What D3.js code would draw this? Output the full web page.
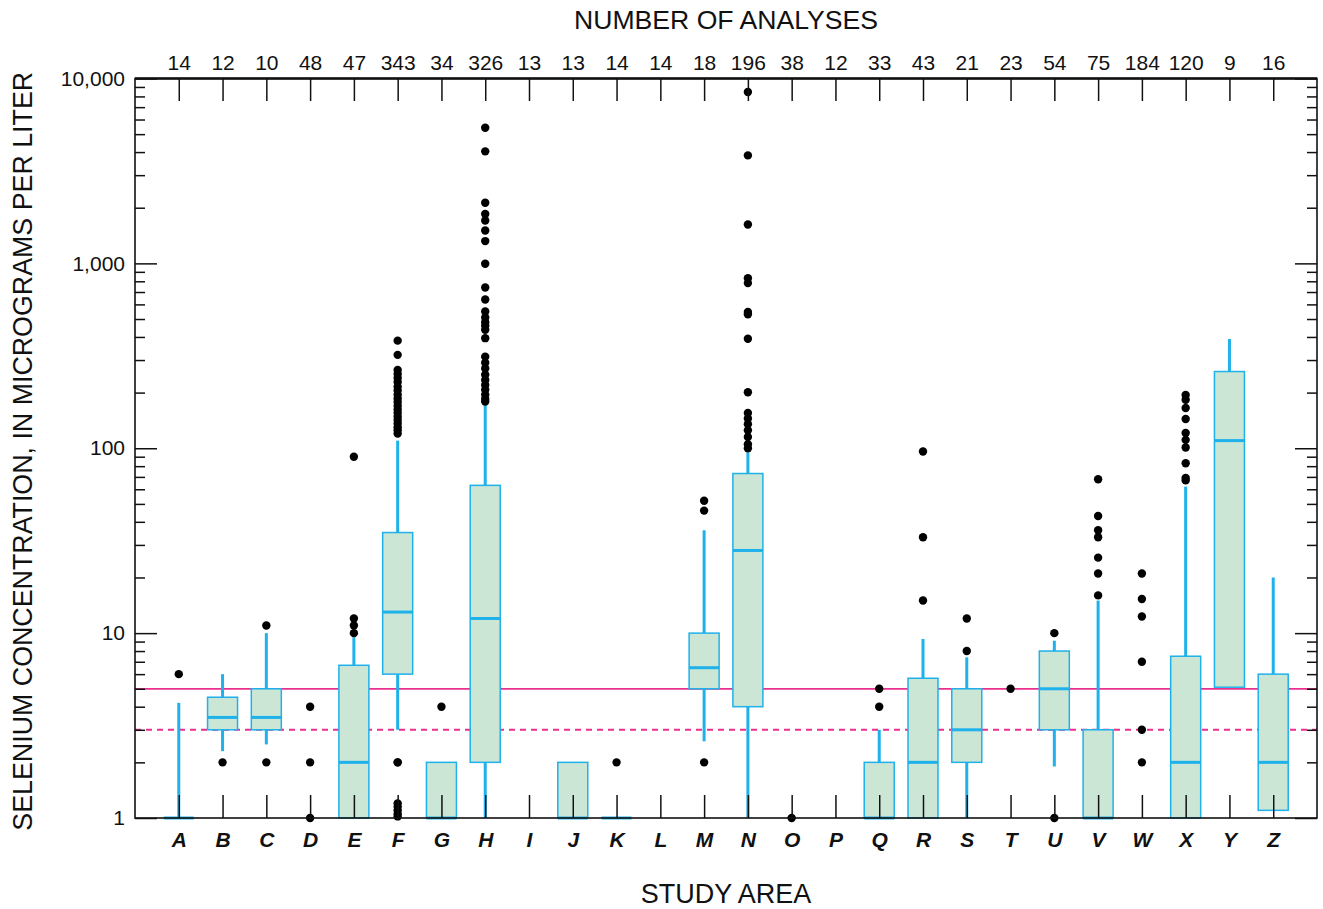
<!DOCTYPE html>
<html>
<head>
<meta charset="utf-8">
<script src="https://cdn.jsdelivr.net/npm/d3@7"></script>
<style>
  body { margin: 0; background: #fff; }
  text { font-family: "Liberation Sans", Arial, Helvetica, sans-serif; fill: #111; }
</style>
</head>
<body>
<div id="chart"></div>
<script>
// canvas
const width = 1323;
const height = 909;
const plot = { left: 135, right: 1317, top: 78.5, bottom: 818 };

// study areas and number of analyses (top axis)
const areas = ["A","B","C","D","E","F","G","H","I","J","K","L","M","N","O","P","Q","R","S","T","U","V","W","X","Y","Z"];
const counts = [14,12,10,48,47,343,34,326,13,13,14,14,18,196,38,12,33,43,21,23,54,75,184,120,9,16];

// box statistics, micrograms per liter (null = no box drawn)
const q1 =          [1, 3,   3,   null, 1,   6,   1, 2,   null, 1, 1, null, 5,   4,  null, null, 1, 1,   2,   null, 3,   1,  null, 1,   5.1, 1.1];
const median =      [1, 3.5, 3.5, null, 2,   13,  1, 12,  null, 1, 1, null, 6.5, 28, null, null, 1, 2,   3,   null, 5,   1,  null, 2,   110, 2];
const q3 =          [1, 4.5, 5,   null, 6.7, 35,  2, 63,  null, 2, 1, null, 10,  73, null, null, 2, 5.7, 5,   null, 8,   3,  null, 7.5, 260, 6];
const whiskerLow =  [1, 2.3, 2.5, null, 1,   3,   1, 1,   null, 1, 1, null, 2.6, 1,  null, null, 1, 1,   1,   null, 1.9, 1,  null, 1,   5.1, 1.1];
const whiskerHigh = [4.2, 6, 10,  null, 9.5, 110, 2, 180, null, 2, 1, null, 36,  95, null, null, 3, 9.3, 7.4, null, 9.1, 15, null, 62,  390, 20];

// individual values outside the whiskers
const outliers = [
  [6],
  [2],
  [2, 11],
  [1, 2, 4],
  [10, 11, 12, 90],
  [1.02, 1.05, 1.1, 1.15, 1.2, 2, 2, 120, 125, 130, 136, 142, 148, 155, 162, 170, 178, 186, 195, 205, 215, 228, 240, 252, 265, 320, 382],
  [4],
  [179, 185, 195, 207, 220, 234, 250, 270, 290, 313, 394, 437, 460, 480, 510, 549, 638, 741, 995, 1320, 1507, 1707, 1849, 2128, 4035, 5420],
  [],
  [],
  [2],
  [],
  [2, 46, 52],
  [100, 105, 115, 125, 135, 145, 155, 201, 391, 530, 546, 782, 832, 1623, 3838, 8450],
  [1],
  [],
  [4, 5],
  [15, 33, 96],
  [8, 12],
  [5],
  [1, 10],
  [16, 21, 25.6, 33, 36, 43, 68],
  [2, 3, 7, 12.3, 15.3, 21],
  [67, 69, 83, 101, 111, 121, 144, 165, 183, 194],
  [],
  []
];

// reference levels
const refSolid = 5;
const refDashed = 3;

const majorTicks = [1, 10, 100, 1000, 10000];
const minorTicks = [2,3,4,5,6,7,8,9,20,30,40,50,60,70,80,90,200,300,400,500,600,700,800,900,2000,3000,4000,5000,6000,7000,8000,9000];

const boxColor = "#1eb1ea";
const boxFill = "#cce6d6";
const refColor = "#ea2f8d";

const svg = d3.select("#chart")
    .append("svg")
    .attr("width", width)
    .attr("height", height);

const x = d3.scalePoint()
    .domain(areas)
    .range([plot.left, plot.right])
    .padding(1);

const y = d3.scaleLog()
    .domain([1, 10000])
    .range([plot.bottom, plot.top]);

const boxW = 30;

// reference lines (behind boxes)
svg.append("line")
    .attr("x1", plot.left).attr("x2", plot.right)
    .attr("y1", y(refSolid)).attr("y2", y(refSolid))
    .attr("stroke", refColor).attr("stroke-width", 1.7);
svg.append("line")
    .attr("x1", plot.left).attr("x2", plot.right)
    .attr("y1", y(refDashed)).attr("y2", y(refDashed))
    .attr("stroke", refColor).attr("stroke-width", 1.9)
    .attr("stroke-dasharray", "6,5");

const stats = areas.map((a, i) => ({
    area: a, q1: q1[i], med: median[i], q3: q3[i],
    lo: whiskerLow[i], hi: whiskerHigh[i], out: outliers[i]
}));

const g = svg.selectAll("g.area")
    .data(stats)
    .enter()
    .append("g")
    .attr("class", "area")
    .attr("transform", d => `translate(${x(d.area)},0)`);

const withBox = g.filter(d => d.q1 !== null);

// whiskers
withBox.filter(d => d.hi > d.q3)
    .append("line")
    .attr("y1", d => y(d.q3)).attr("y2", d => y(d.hi))
    .attr("stroke", boxColor).attr("stroke-width", 3);
withBox.filter(d => d.lo < d.q1)
    .append("line")
    .attr("y1", d => y(d.q1)).attr("y2", d => y(d.lo))
    .attr("stroke", boxColor).attr("stroke-width", 3);

// boxes
withBox.append("rect")
    .attr("x", -boxW / 2)
    .attr("width", boxW)
    .attr("y", d => y(d.q3))
    .attr("height", d => y(d.q1) - y(d.q3))
    .attr("fill", boxFill)
    .attr("stroke", boxColor)
    .attr("stroke-width", 1.5);

// medians
withBox.append("line")
    .attr("x1", -boxW / 2).attr("x2", boxW / 2)
    .attr("y1", d => y(d.med)).attr("y2", d => y(d.med))
    .attr("stroke", boxColor).attr("stroke-width", 3);

// outliers
g.selectAll("circle")
    .data(d => d.out)
    .enter()
    .append("circle")
    .attr("cx", 0)
    .attr("cy", v => y(v))
    .attr("r", 4.2)
    .attr("fill", "#000");

// axes
const topAxis = d3.axisTop(x)
    .tickSizeInner(-22.5).tickSizeOuter(0).tickPadding(9)
    .tickFormat((d, i) => counts[i]);
const bottomAxis = d3.axisBottom(x)
    .tickSizeInner(-23).tickSizeOuter(0).tickPadding(14);
const leftMajor = d3.axisLeft(y)
    .tickValues(majorTicks).tickSizeInner(-22).tickSizeOuter(0).tickPadding(10)
    .tickFormat(d3.format(","));
const leftMinor = d3.axisLeft(y)
    .tickValues(minorTicks).tickSizeInner(-10).tickSizeOuter(0).tickFormat("");
const rightMajor = d3.axisRight(y)
    .tickValues(majorTicks).tickSizeInner(-22).tickSizeOuter(0).tickFormat("");
const rightMinor = d3.axisRight(y)
    .tickValues(minorTicks).tickSizeInner(-10).tickSizeOuter(0).tickFormat("");

function styleAxis(sel) {
    sel.select(".domain").remove();
    sel.selectAll(".tick line").attr("stroke", "#111").attr("stroke-width", 1.5);
    sel.selectAll(".tick text").attr("fill", "#111")
        .style("font-family", '"Liberation Sans", Arial, sans-serif');
}

svg.append("g").attr("transform", `translate(0,${plot.top})`).call(topAxis).call(styleAxis)
    .selectAll(".tick text").style("font-size", "21px");
svg.append("g").attr("transform", `translate(0,${plot.bottom})`).call(bottomAxis).call(styleAxis)
    .selectAll(".tick text").style("font-size", "21px")
    .style("font-weight", "bold").style("font-style", "italic");
svg.append("g").attr("transform", `translate(${plot.left},0)`).call(leftMajor).call(styleAxis)
    .selectAll(".tick text").style("font-size", "21px");
svg.append("g").attr("transform", `translate(${plot.left},0)`).call(leftMinor).call(styleAxis);
svg.append("g").attr("transform", `translate(${plot.right},0)`).call(rightMajor).call(styleAxis);
svg.append("g").attr("transform", `translate(${plot.right},0)`).call(rightMinor).call(styleAxis);

// frame
svg.append("rect")
    .attr("x", plot.left).attr("y", plot.top)
    .attr("width", plot.right - plot.left).attr("height", plot.bottom - plot.top)
    .attr("fill", "none").attr("stroke", "#111").attr("stroke-width", 1.6);
svg.append("line")
    .attr("x1", plot.left).attr("x2", plot.right)
    .attr("y1", plot.top).attr("y2", plot.top)
    .attr("stroke", "#111").attr("stroke-width", 2.4);

// titles
const cx = (plot.left + plot.right) / 2;
svg.append("text")
    .attr("x", cx).attr("y", 29)
    .attr("text-anchor", "middle")
    .style("font-size", "26.6px")
    .text("NUMBER OF ANALYSES");
svg.append("text")
    .attr("x", cx).attr("y", 903)
    .attr("text-anchor", "middle")
    .style("font-size", "27px")
    .text("STUDY AREA");
svg.append("text")
    .attr("transform", `translate(32,${(plot.top + plot.bottom) / 2 + 3}) rotate(-90)`)
    .attr("text-anchor", "middle")
    .style("font-size", "26.8px")
    .text("SELENIUM CONCENTRATION, IN MICROGRAMS PER LITER");
</script>
</body>
</html>
